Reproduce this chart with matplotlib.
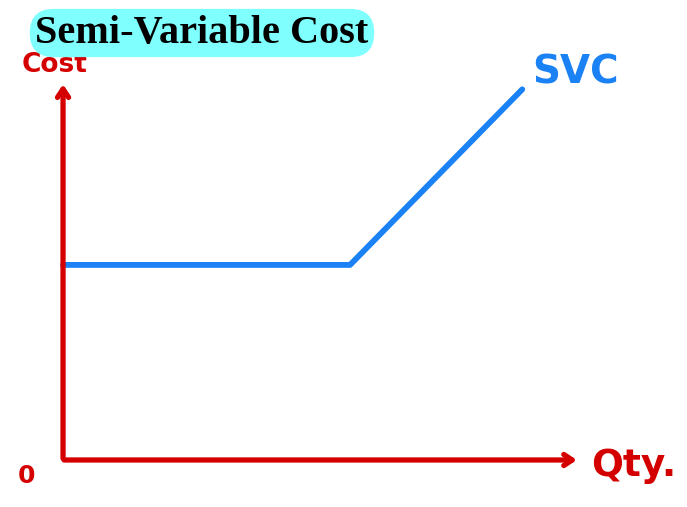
import numpy as np
import matplotlib.pyplot as plt

# semi-variable cost: fixed part, then rising with quantity
qty = [0, 50, 80]
cost = [50, 50, 95]
x_axis_end = 90
y_axis_end = 97

red = '#d40000'
blue = '#1a82f5'

fig = plt.figure(figsize=(6.87, 5.07), dpi=100)
ax = fig.add_axes([0, 0, 1, 1])
ax.set_xlim(-10.98, 108.7)
ax.set_ylim(-12.05, 117.9)
ax.axis('off')

# axes drawn by hand style, red with open arrowheads
arrow = dict(arrowstyle='->,head_length=0.6,head_width=0.4', color=red, lw=3.8,
             capstyle='round', joinstyle='round')
ax.annotate('', xy=(x_axis_end, 0), xytext=(-0.3, 0), arrowprops=arrow)
ax.annotate('', xy=(0, y_axis_end), xytext=(0, -0.3), arrowprops=arrow)

ax.plot(qty, cost, color=blue, lw=4.2, solid_capstyle='round', solid_joinstyle='round')

ax.text(-1.5, y_axis_end + 0.8, 'Cost', color=red, fontsize=19, ha='center', va='bottom',
        family='DejaVu Sans', weight='bold')
ax.text(qty[-1] + 1.8, cost[-1] - 0.5, 'SVC', color=blue, fontsize=28, ha='left', va='bottom',
        family='DejaVu Sans', weight='bold')
ax.text(x_axis_end + 2, -1.5, 'Qty.', color=red, fontsize=27, ha='left', va='center',
        family='DejaVu Sans', weight='bold')
ax.text(-6.3, -4.1, '0', color=red, fontsize=18, ha='center', va='center',
        family='DejaVu Sans', weight='bold')

ax.text(202, 474, 'Semi-Variable Cost', transform=None, fontsize=29,
        family='Liberation Serif', weight='bold', ha='center', va='center',
        bbox=dict(boxstyle='round,pad=0.14,rounding_size=0.6', fc='#80ffff', ec='none'))

fig.savefig('out.png', dpi=100)
